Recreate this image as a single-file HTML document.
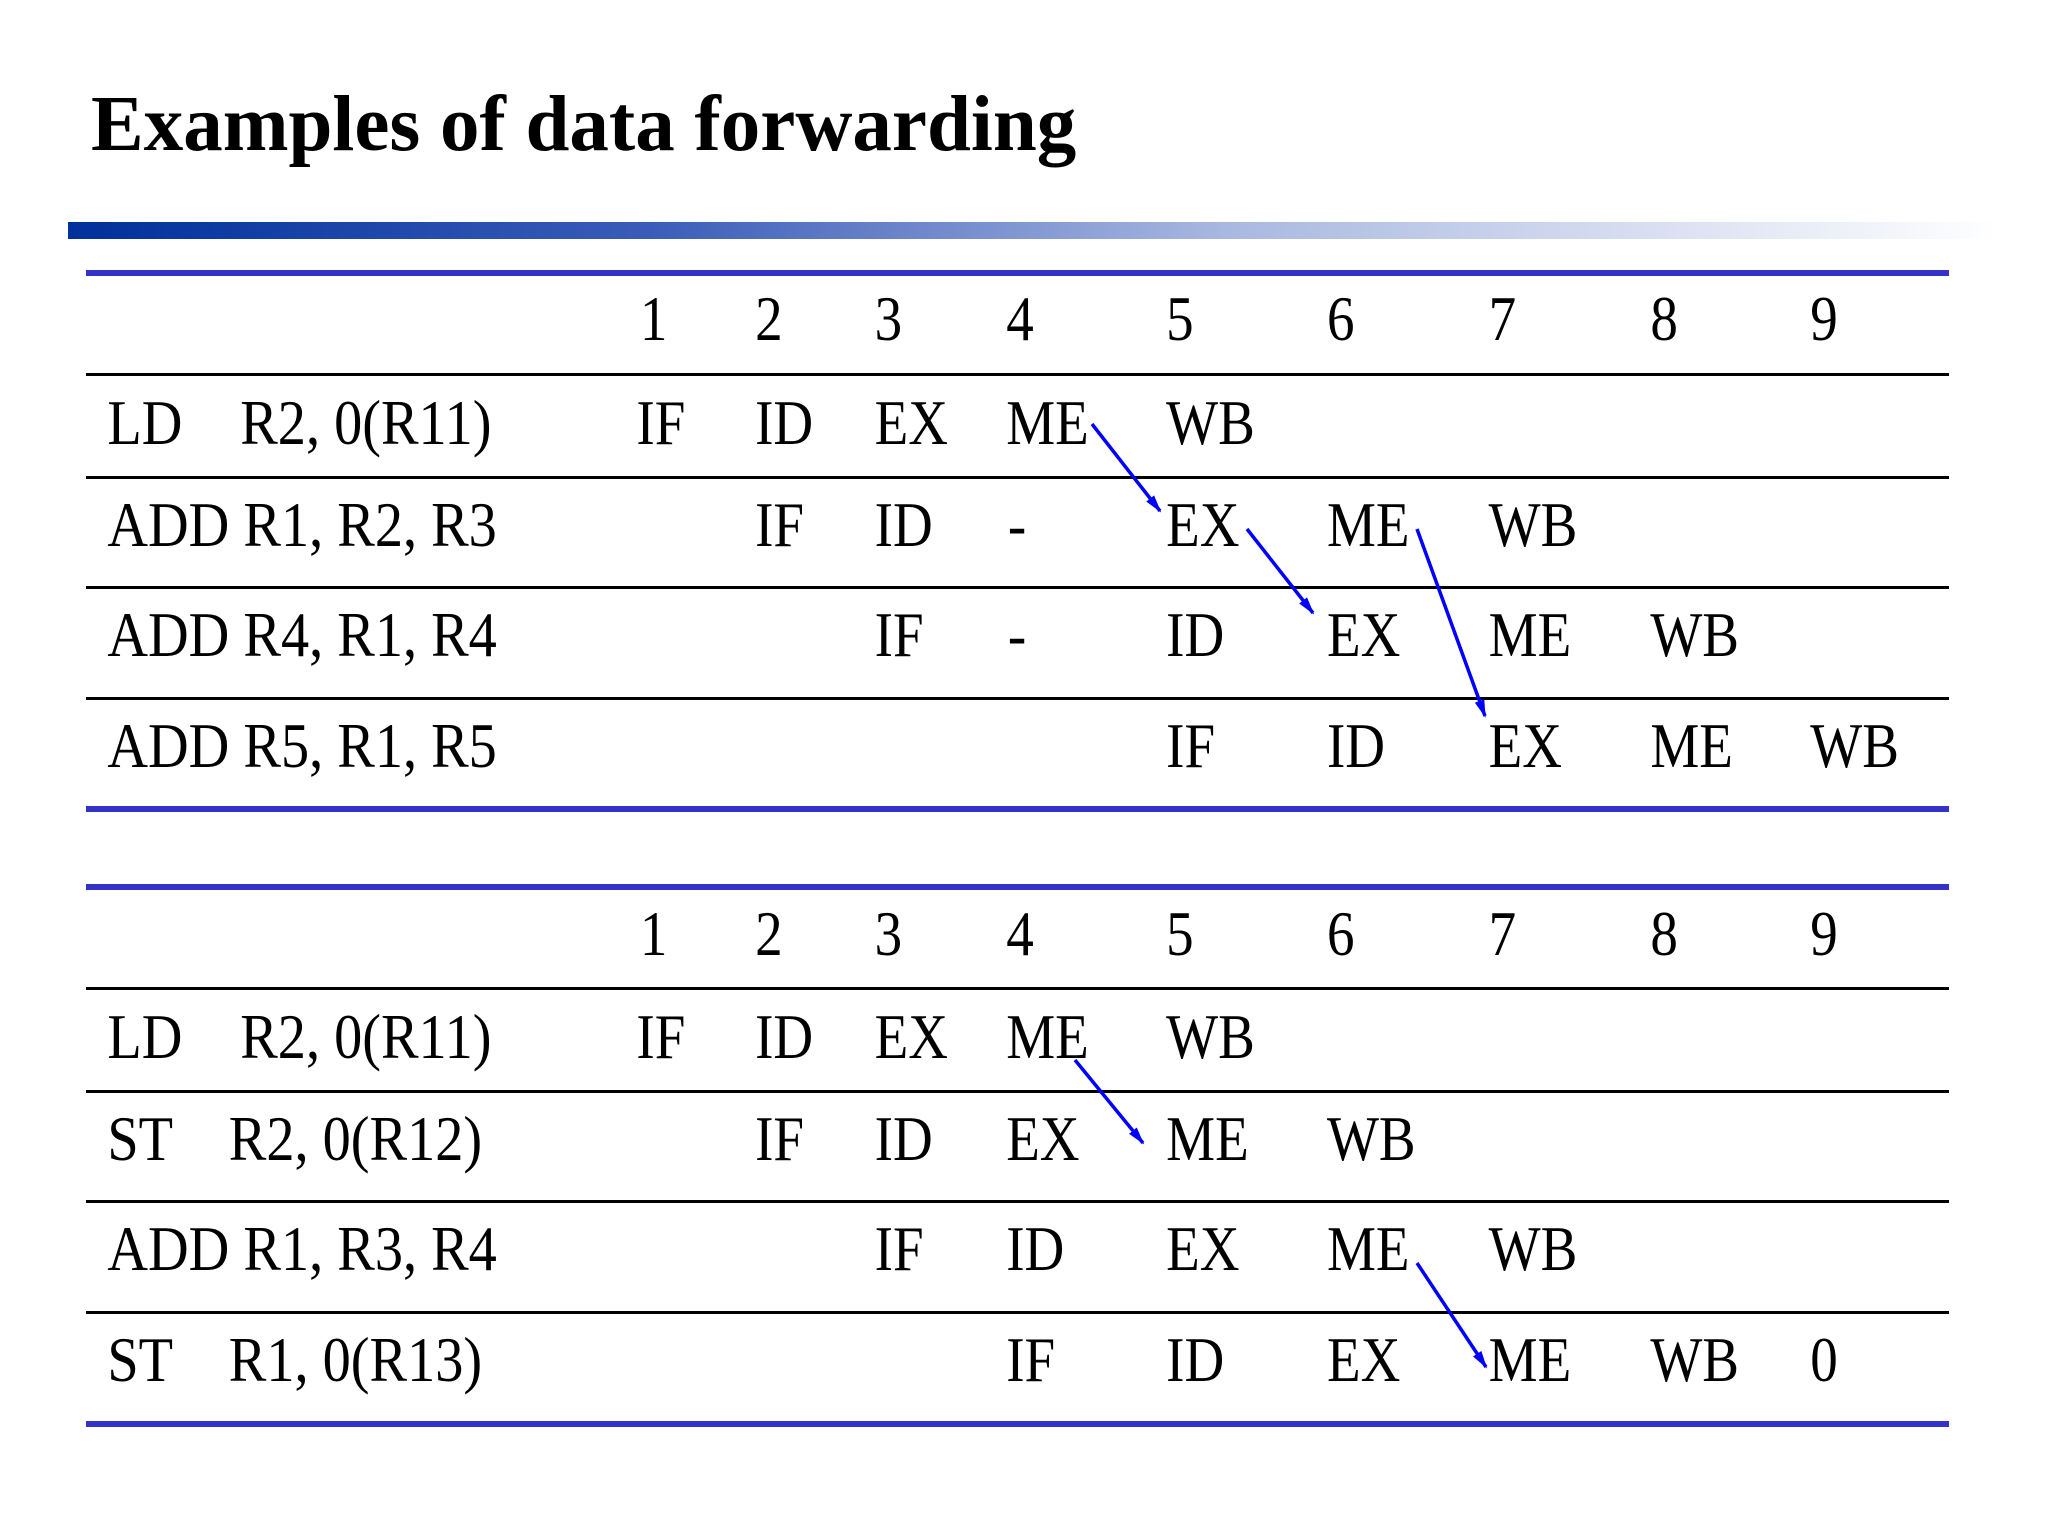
<!DOCTYPE html>
<html><head><meta charset="utf-8"><style>
html,body{margin:0;padding:0;background:#fff;}
svg{display:block;}
</style></head><body>
<svg width="2048" height="1536" viewBox="0 0 2048 1536" xmlns="http://www.w3.org/2000/svg">
<defs>
<linearGradient id="g" x1="0" x2="1" y1="0" y2="0">
<stop offset="0" stop-color="#00309a"/>
<stop offset="0.3" stop-color="#3a5cb8"/>
<stop offset="0.6" stop-color="#a9b8e0"/>
<stop offset="1" stop-color="#ffffff"/>
</linearGradient>
<marker id="a" markerWidth="18" markerHeight="14" refX="16" refY="7" orient="auto" markerUnits="userSpaceOnUse">
<path d="M0,2 L18,7 L0,12 z" fill="#0000ff"/>
</marker>
</defs>
<text x="91" y="150" font-family="Liberation Serif, serif" font-weight="bold" font-size="79" fill="#000">Examples of data forwarding</text>
<rect x="68" y="222" width="1930" height="17" fill="url(#g)"/>

<g>
<rect x="86" y="270" width="1863" height="6" fill="#3333cc"/>
<rect x="86" y="373" width="1863" height="3" fill="#000"/>
<rect x="86" y="476" width="1863" height="3" fill="#000"/>
<rect x="86" y="586" width="1863" height="3" fill="#000"/>
<rect x="86" y="697" width="1863" height="3" fill="#000"/>
<rect x="86" y="806" width="1863" height="6" fill="#3333cc"/>

<rect x="86" y="884" width="1863" height="6" fill="#3333cc"/>
<rect x="86" y="987" width="1863" height="3" fill="#000"/>
<rect x="86" y="1090" width="1863" height="3" fill="#000"/>
<rect x="86" y="1200" width="1863" height="3" fill="#000"/>
<rect x="86" y="1311" width="1863" height="3" fill="#000"/>
<rect x="86" y="1421" width="1863" height="6" fill="#3333cc"/>
</g>

<g font-family="Liberation Serif, serif" font-size="64" fill="#000" transform="scale(0.88,1)">
<text y="444"><tspan x="122">LD</tspan><tspan x="273">R2, 0(R11)</tspan></text>
<text y="546" x="122">ADD R1, R2, R3</text>
<text y="656" x="122">ADD R4, R1, R4</text>
<text y="767" x="122">ADD R5, R1, R5</text>
<text y="1058"><tspan x="122">LD</tspan><tspan x="273">R2, 0(R11)</tspan></text>
<text y="1160"><tspan x="122">ST</tspan><tspan x="260">R2, 0(R12)</tspan></text>
<text y="1270" x="122">ADD R1, R3, R4</text>
<text y="1381"><tspan x="122">ST</tspan><tspan x="260">R1, 0(R13)</tspan></text>
</g>

<g font-family="Liberation Serif, serif" font-size="64" fill="#000" transform="scale(0.86,1)">
<text y="340"><tspan x="744">1</tspan><tspan x="878">2</tspan><tspan x="1017">3</tspan><tspan x="1170">4</tspan><tspan x="1356">5</tspan><tspan x="1543">6</tspan><tspan x="1731">7</tspan><tspan x="1919">8</tspan><tspan x="2105">9</tspan></text>
<text y="444"><tspan x="740">IF</tspan><tspan x="878">ID</tspan><tspan x="1017">EX</tspan><tspan x="1170">ME</tspan><tspan x="1356">WB</tspan></text>
<text y="546"><tspan x="878">IF</tspan><tspan x="1017">ID</tspan><tspan x="1172">-</tspan><tspan x="1356">EX</tspan><tspan x="1543">ME</tspan><tspan x="1731">WB</tspan></text>
<text y="656"><tspan x="1017">IF</tspan><tspan x="1172">-</tspan><tspan x="1356">ID</tspan><tspan x="1543">EX</tspan><tspan x="1731">ME</tspan><tspan x="1919">WB</tspan></text>
<text y="767"><tspan x="1356">IF</tspan><tspan x="1543">ID</tspan><tspan x="1731">EX</tspan><tspan x="1919">ME</tspan><tspan x="2105">WB</tspan></text>
<text y="955"><tspan x="744">1</tspan><tspan x="878">2</tspan><tspan x="1017">3</tspan><tspan x="1170">4</tspan><tspan x="1356">5</tspan><tspan x="1543">6</tspan><tspan x="1731">7</tspan><tspan x="1919">8</tspan><tspan x="2105">9</tspan></text>
<text y="1058"><tspan x="740">IF</tspan><tspan x="878">ID</tspan><tspan x="1017">EX</tspan><tspan x="1170">ME</tspan><tspan x="1356">WB</tspan></text>
<text y="1160"><tspan x="878">IF</tspan><tspan x="1017">ID</tspan><tspan x="1170">EX</tspan><tspan x="1356">ME</tspan><tspan x="1543">WB</tspan></text>
<text y="1270"><tspan x="1017">IF</tspan><tspan x="1170">ID</tspan><tspan x="1356">EX</tspan><tspan x="1543">ME</tspan><tspan x="1731">WB</tspan></text>
<text y="1381"><tspan x="1170">IF</tspan><tspan x="1356">ID</tspan><tspan x="1543">EX</tspan><tspan x="1731">ME</tspan><tspan x="1919">WB</tspan><tspan x="2105">0</tspan></text>
</g>

<g stroke="#0000ff" stroke-width="3.5" fill="none" marker-end="url(#a)">
<line x1="1092" y1="424" x2="1160" y2="511"/>
<line x1="1247" y1="529" x2="1313" y2="613"/>
<line x1="1417" y1="529" x2="1485" y2="716"/>
<line x1="1075" y1="1060" x2="1143" y2="1143"/>
<line x1="1417" y1="1263" x2="1486" y2="1367"/>
</g>
</svg>
</body></html>
